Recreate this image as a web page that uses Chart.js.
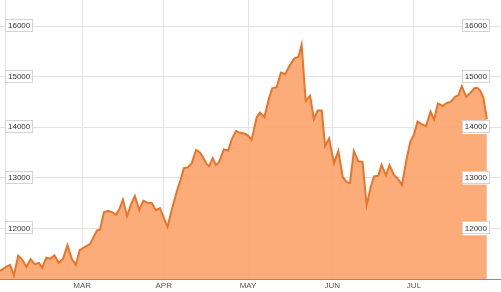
<!DOCTYPE html>
<html>
<head>
<meta charset="utf-8">
<script src="https://cdn.jsdelivr.net/npm/chart.js@4.4.0/dist/chart.umd.min.js"></script>
<style>
html, body { margin: 0; padding: 0; background: #fff; }
#wrap { width: 501px; height: 292px; }
</style>
</head>
<body>
<div id="wrap"><canvas id="chart"></canvas></div>
<script>
// 日期按 2 月 1 日起算的天数
const days = [-2.2, 0, 1.5, 2.9, 4.5, 5.9, 7.5, 9.1, 10.6, 12.1, 13.3, 14.8, 16.3, 17.8, 19.4, 21.0,
    22.6, 24.2, 25.7, 27.1, 29.2, 30.9, 32.4, 33.5, 34.6, 36.0, 37.5, 39.0, 40.4, 41.7, 43.0, 44.5,
    46.0, 47.4, 49.0, 50.5, 52.2, 53.6, 55.1, 56.6, 58.1, 59.4, 60.9, 62.8, 64.2, 65.4, 67.0, 68.3,
    69.9, 71.3, 72.5, 73.8, 74.7, 76.0, 77.2, 78.4, 80.1, 81.7, 83.0, 84.6, 86.0, 87.9, 89.1, 90.3,
    92.2, 93.4, 95.0, 96.7, 97.9, 99.5, 101.1, 102.6, 104.4, 106.0, 107.5, 108.7, 110.2, 111.8, 113.2,
    114.6, 116.1, 117.3, 118.8, 120.6, 122.2, 123.8, 125.2, 126.5, 127.9, 129.5, 131.1, 132.6, 134.1,
    135.3, 136.9, 138.1, 139.7, 141.0, 142.6, 144.1, 145.6, 147.2, 148.7, 150.0, 151.3, 152.8, 154.4,
    156.1, 157.4, 158.8, 160.5, 162.1, 163.5, 165.1, 166.3, 167.6, 169.2, 170.6, 172.2, 173.2, 174.3,
    175.5, 176.8];
const prices = [11160, 11240, 11280, 11070, 11460, 11390, 11240, 11390, 11290, 11320, 11220, 11420, 11400, 11470, 11320, 11400,
    11670, 11400, 11280, 11570, 11640, 11690, 11850, 11960, 11980, 12320, 12350, 12320, 12270, 12380, 12570, 12240,
    12480, 12640, 12360, 12550, 12500, 12500, 12360, 12400, 12200, 12030, 12360, 12730, 12960, 13190, 13210, 13290,
    13550, 13500, 13400, 13270, 13230, 13390, 13250, 13320, 13560, 13540, 13760, 13930, 13890, 13870, 13830, 13750,
    14200, 14290, 14200, 14570, 14770, 14790, 15080, 15050, 15230, 15360, 15390, 15630, 14520, 14620, 14160,
    14330, 14330, 13630, 13780, 13290, 13530, 13020, 12920, 12900, 13530, 13330, 13310, 12460, 12820,
    13030, 13040, 13260, 13050, 13250, 13060, 12980, 12860, 13350, 13720, 13850, 14110, 14060, 14020,
    14310, 14150, 14470, 14420, 14480, 14500, 14600, 14630, 14810, 14600, 14670, 14770, 14780, 14730,
    14590, 14160];
const monthDays = [0, 28, 58, 89, 120, 150];
const monthLabels = ['', 'MAR', 'APR', 'MAY', 'JUN', 'JUL'];
const priceTicks = [12000, 13000, 14000, 15000, 16000];

const fontFamily = '"Liberation Sans", Arial, sans-serif';

// 给纵轴标签加浅灰边框
const labelBorder = {
    id: 'labelBorder',
    afterDraw(chart) {
        const ctx = chart.ctx;
        ['y', 'y2'].forEach(id => {
            const s = chart.scales[id];
            const pad = s.options.ticks.padding;
            ctx.save();
            ctx.font = '8px ' + fontFamily;
            ctx.strokeStyle = '#d4d4d4';
            ctx.lineWidth = 1;
            s.ticks.forEach(t => {
                const w = ctx.measureText(String(t.value)).width;
                const y = s.getPixelForValue(t.value);
                const x = id === 'y' ? s.right + pad : s.left + pad - w;
                ctx.strokeRect(Math.round(x - 2) - 0.5, Math.round(y - 7) + 0.5, Math.round(w + 4) + 1, 12);
            });
            ctx.restore();
        });
    }
};

function yAxis(position, padding, showGrid) {
    return {
        position: position,
        min: 11000,
        max: 16515,
        afterBuildTicks: a => { a.ticks = priceTicks.map(v => ({ value: v })); },
        afterFit: s => { s.width = 0; s.paddingTop = 0; s.paddingBottom = 0; },
        grid: { display: showGrid, color: '#e3e3e3', drawTicks: false },
        border: { display: false },
        ticks: {
            mirror: true,
            padding: padding,
            z: 1,
            showLabelBackdrop: true,
            backdropColor: '#ffffff',
            backdropPadding: { top: 2, bottom: 2, left: 2, right: 2 },
            color: '#333',
            font: { size: 8, family: fontFamily },
            callback: v => String(v)
        }
    };
}

const ctx = document.getElementById('chart').getContext('2d');
new Chart(ctx, {
    type: 'line',
    data: {
        datasets: [{
            data: days.map((d, i) => ({ x: d, y: prices[i] })),
            borderColor: '#e8752a',
            backgroundColor: 'rgba(252, 165, 108, 0.92)',
            borderWidth: 2,
            fill: 'start',
            tension: 0,
            pointRadius: 0,
            yAxisID: 'y'
        }]
    },
    options: {
        responsive: true,
        maintainAspectRatio: false,
        animation: false,
        layout: { padding: 0 },
        plugins: {
            legend: { display: false },
            tooltip: { enabled: false }
        },
        scales: {
            x: {
                type: 'linear',
                min: -2.2,
                max: 182,
                afterBuildTicks: a => { a.ticks = monthDays.map(v => ({ value: v })); },
                afterFit: s => { s.height = 13; s.paddingLeft = 0; s.paddingRight = 0; },
                grid: { color: '#e3e3e3', drawTicks: false },
                border: { color: '#8c8c8c', width: 1 },
                ticks: {
                    autoSkip: false,
                    maxRotation: 0,
                    padding: 2,
                    color: '#555',
                    font: { size: 8, family: fontFamily },
                    callback: (v, i) => monthLabels[i]
                }
            },
            y: yAxis('left', 8, true),
            y2: yAxis('right', -14, false)
        }
    },
    plugins: [labelBorder]
});
</script>
</body>
</html>
